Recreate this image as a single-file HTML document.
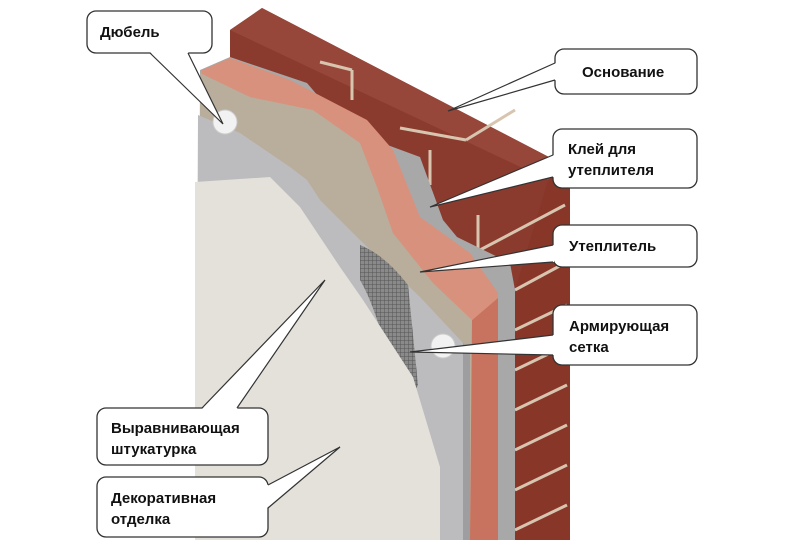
<!DOCTYPE html>
<html><head><meta charset="utf-8"><style>
html,body{margin:0;padding:0;background:#fff;width:800px;height:551px;overflow:hidden}
svg{display:block}
text{font-family:"Liberation Sans",Arial,sans-serif;font-weight:bold;font-size:15px;fill:#111}
</style></head><body>
<svg width="800" height="551" viewBox="0 0 800 551" xmlns="http://www.w3.org/2000/svg">
<defs>
<pattern id="mesh" width="4" height="4" patternUnits="userSpaceOnUse">
<rect width="4" height="4" fill="#8a8a8a"/><path d="M0 0H4M0 0V4" stroke="#555" stroke-width="1"/>
</pattern>
</defs>
<!-- brick -->
<polygon points="230,30 262,8 570,168 570,540 230,540" fill="#8b3b2e"/>
<polygon points="230,30 262,8 570,168 548,180" fill="#96473a"/>
<polygon points="515,290 548,180 570,168 570,540 515,540" fill="#873628"/>
<g stroke="#d8c5b0" stroke-width="3" fill="none">
<path d="M352,70 L352,100"/><path d="M320,62 L352,70"/>
<path d="M430,150 L430,185"/><path d="M400,128 L466,140"/>
<path d="M466,140 L515,110"/>
<path d="M480,250 L565,205"/><path d="M515,290 L567,262"/><path d="M515,330 L567,305"/>
<path d="M515,370 L567,345"/><path d="M515,410 L567,385"/><path d="M515,450 L567,425"/>
<path d="M515,490 L567,465"/><path d="M515,530 L567,505"/><path d="M478,215 L478,250"/>
</g>
<!-- glue -->
<polygon points="230,57 307,83 347,130 420,157 443,220 457,237 510,263 515,290 515,540 200,540 200,70" fill="#a8a8a8"/>
<!-- pink -->
<polygon points="202,70 230,58 290,80 367,120 393,150 420,217 470,253 498,293 498,540 200,540" fill="#d8917c"/>
<polygon points="470,322 498,298 498,540 470,540" fill="#c7735f"/>
<!-- tan -->
<polygon points="200,73 250,97 313,110 360,143 377,187 393,233 433,283 472,320 470,540 198,540" fill="#b9ad9c"/>
<!-- grey plaster -->
<polygon points="198,115 240,133 290,167 307,180 320,200 360,240 420,297 463,343 470,350 470,540 196,540" fill="#bcbcbe"/>
<polygon points="463,343 470,350 470,540 463,540" fill="#9e9ea0"/>
<!-- mesh -->
<path d="M360,245 Q385,255 408,285 L418,385 Q410,400 402,392 L385,345 Q372,300 360,280 Z" fill="url(#mesh)"/>
<!-- white decorative -->
<polygon points="195,182 270,177 300,207 340,267 363,300 413,377 440,467 440,540 195,540" fill="#e4e1da"/>
<!-- dowels -->
<circle cx="225" cy="122" r="12" fill="#f2f2f2" stroke="#ccc"/>
<circle cx="443" cy="346" r="12" fill="#f2f2f2" stroke="#ccc"/>
<!-- callouts -->
<g stroke="#333" stroke-width="1.3">
<rect x="87" y="11" width="125" height="42" rx="9" fill="#fff"/>
<rect x="555" y="49" width="142" height="45" rx="9" fill="#fff"/>
<rect x="553" y="129" width="144" height="59" rx="9" fill="#fff"/>
<rect x="553" y="225" width="144" height="42" rx="9" fill="#fff"/>
<rect x="553" y="305" width="144" height="60" rx="9" fill="#fff"/>
<rect x="97" y="408" width="171" height="57" rx="9" fill="#fff"/>
<rect x="97" y="477" width="171" height="60" rx="9" fill="#fff"/>
</g>
<g fill="#fff">
<polygon points="150,52 188,52 223,124"/>
<polygon points="556,63 556,80 448,111"/>
<polygon points="554,155 554,177 430,207"/>
<polygon points="554,245 554,262 420,272"/>
<polygon points="554,335 554,355 410,352"/>
<polygon points="202,409 237,409 325,280"/>
<polygon points="267,485 267,508 340,447"/>
</g>
<g stroke="#333" stroke-width="1.2" fill="none">
<polyline points="150,53 223,124 188,53"/>
<polyline points="555,63 448,111 555,80"/>
<polyline points="553,155 430,207 553,177"/>
<polyline points="553,245 420,272 553,262"/>
<polyline points="553,335 410,352 553,355"/>
<polyline points="202,408 325,280 237,408"/>
<polyline points="268,485 340,447 268,508"/>
</g>
<text x="100" y="37">Дюбель</text>
<text x="582" y="77">Основание</text>
<text x="568" y="154">Клей для</text>
<text x="568" y="175">утеплителя</text>
<text x="569" y="251">Утеплитель</text>
<text x="569" y="331">Армирующая</text>
<text x="569" y="352">сетка</text>
<text x="111" y="433">Выравнивающая</text>
<text x="111" y="454">штукатурка</text>
<text x="111" y="503">Декоративная</text>
<text x="111" y="524">отделка</text>
</svg>
</body></html>
